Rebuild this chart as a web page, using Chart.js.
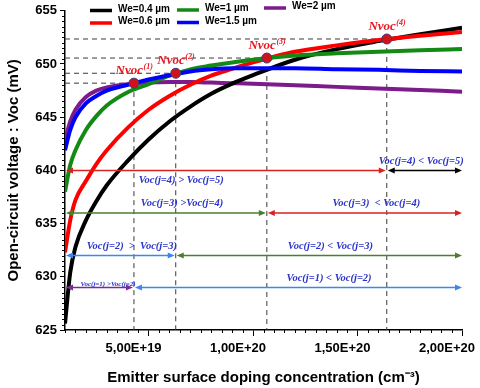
<!DOCTYPE html>
<html>
<head>
<meta charset="utf-8">
<script src="https://cdn.jsdelivr.net/npm/chart.js@4.4.0/dist/chart.umd.min.js"></script>
<style>
  html, body { margin: 0; padding: 0; background: #fff; }
  #wrap { width: 480px; height: 388px; }
</style>
</head>
<body>
<div id="wrap"><canvas id="vocChart" width="480" height="388"></canvas></div>
<script>
// Voc versus emitter surface doping, for several emitter thicknesses

// doping concentration (cm-3)
const doping = [1e19, 1.25e19, 1.5e19, 2e19, 2.5e19, 3e19, 4e19, 5e19, 6e19, 7e19, 8e19, 9e19, 1e20, 1.2e20, 1.4e20, 1.6e20, 1.8e20, 2e20];

// Voc (mV) for each emitter thickness
const vocWe04 = [625.6, 630.4, 632.8, 635.3, 637.1, 638.6, 640.9, 642.9, 644.6, 646.0, 647.2, 648.15, 648.95, 650.4, 651.4, 652.15, 652.8, 653.4];
const vocWe06 = [632.3, 635.3, 637.2, 639.0, 640.6, 641.9, 644.0, 645.7, 647.0, 648.05, 648.9, 649.55, 650.15, 651.15, 651.75, 652.25, 652.65, 653.0];
const vocWe1 = [638.0, 640.5, 641.9, 643.8, 645.1, 646.1, 647.35, 648.1, 648.9, 649.5, 649.85, 650.15, 650.4, 650.8, 651.0, 651.15, 651.3, 651.4];
const vocWe15 = [641.9, 643.8, 645.0, 646.3, 647.0, 647.5, 648.05, 648.55, 648.95, 649.3, 649.5, 649.6, 649.6, 649.6, 649.5, 649.45, 649.35, 649.3];
const vocWe2 = [642.8, 644.6, 645.7, 646.9, 647.5, 647.8, 648.1, 648.25, 648.3, 648.3, 648.25, 648.2, 648.15, 648.0, 647.85, 647.7, 647.55, 647.4];

const seriesLabels = ['We=0.4 µm', 'We=0.6 µm', 'We=1 µm', 'We=1.5 µm', 'We=2 µm'];
const seriesColors = ['#000000', '#ff0000', '#138a13', '#0000ff', '#7d1a8c'];

// crossing points Nvoc(1..4)
const nvocX = [4.3e19, 6.3e19, 1.066e20, 1.64e20];
const nvocY = [648.2, 649.13, 650.56, 652.35];

// comparison arrows (mV level) and their notes
const arrowLevels = [629, 632, 636, 640];
const leftNotes = ['Voc(j=1) >Voc(j=2)', 'Voc(j=2)  >  Voc(j=3)', 'Voc(j=3) >Voc(j=4)', 'Voc(j=4) > Voc(j=5)'];
const rightNotes = ['Voc(j=1) < Voc(j=2)', 'Voc(j=2) < Voc(j=3)', 'Voc(j=3)  < Voc(j=4)', 'Voc(j=4) < Voc(j=5)'];
const arrowColors = ['#7a2d92', '#3d86f2', '#4a7f2c', '#d8231e', '#000000'];

// tick labels
const xTicks = [5e19, 1e20, 1.5e20, 2e20];
const yTickStep = 5;

const toPoints = (ys) => doping.map((x, i) => ({ x: x, y: ys[i] }));
const vocSeries = [vocWe04, vocWe06, vocWe1, vocWe15, vocWe2];

// blue on top of purple, points on top of everything
const curveOrder = [3, 2, 1, 0, 4];
const datasets = [{
  label: 'Nvoc',
  data: nvocX.map((x, i) => ({ x: x, y: nvocY[i] })),
  showLine: false,
  pointRadius: 5,
  pointBackgroundColor: '#d0121a',
  pointBorderColor: '#3b3f78',
  pointBorderWidth: 1
}];
curveOrder.forEach(function (i) {
  datasets.push({
    label: seriesLabels[i],
    data: toPoints(vocSeries[i]),
    borderColor: seriesColors[i],
    backgroundColor: seriesColors[i],
    borderWidth: 4,
    pointRadius: 0,
    cubicInterpolationMode: 'monotone'
  });
});

function head(ctx, x, y, dir) {
  ctx.beginPath();
  ctx.moveTo(x, y);
  ctx.lineTo(x + dir * 7, y - 3);
  ctx.lineTo(x + dir * 7, y + 3);
  ctx.closePath();
  ctx.fill();
}

function arrow(ctx, x1, x2, y, color) {
  ctx.strokeStyle = color;
  ctx.fillStyle = color;
  ctx.lineWidth = 1.5;
  ctx.beginPath();
  ctx.moveTo(x1 + 4, y);
  ctx.lineTo(x2 - 4, y);
  ctx.stroke();
  head(ctx, x1, y, 1);
  head(ctx, x2, y, -1);
}

const serif = '"Liberation Serif", "Times New Roman", serif';

const overlay = {
  id: 'overlay',
  beforeDatasetsDraw(chart) {
    const ctx = chart.ctx, xs = chart.scales.x, ys = chart.scales.y;
    ctx.save();
    // dashed guides to the crossing points
    ctx.strokeStyle = '#3a3a3a';
    ctx.lineWidth = 1;
    ctx.setLineDash([5, 4]);
    nvocX.forEach(function (v, i) {
      const px = xs.getPixelForValue(v), py = ys.getPixelForValue(nvocY[i]);
      ctx.beginPath();
      ctx.moveTo(xs.left, py);
      ctx.lineTo(px, py);
      ctx.moveTo(px, py);
      ctx.lineTo(px, ys.bottom);
      ctx.stroke();
    });
    ctx.restore();
  },
  afterDatasetsDraw(chart) {
    const ctx = chart.ctx, xs = chart.scales.x, ys = chart.scales.y;
    ctx.save();

    // minor ticks
    ctx.strokeStyle = '#000';
    ctx.lineWidth = 1;
    for (let k = 2; k <= 40; k++) {
      if (k % 10 === 0) continue;
      const px = Math.round(xs.getPixelForValue(k * 5e18)) + 0.5;
      ctx.beginPath();
      ctx.moveTo(px, xs.top);
      ctx.lineTo(px, xs.top + 3);
      ctx.stroke();
    }
    for (let k = 1250; k <= 1310; k++) {
      if (k % 10 === 0) continue;
      const py = Math.round(ys.getPixelForValue(k * 0.5)) + 0.5;
      ctx.beginPath();
      ctx.moveTo(ys.right, py);
      ctx.lineTo(ys.right - 3, py);
      ctx.stroke();
    }

    // comparison arrows
    arrowLevels.forEach(function (lv, i) {
      const py = ys.getPixelForValue(lv);
      const pm = xs.getPixelForValue(nvocX[i]);
      arrow(ctx, xs.left + 1, pm - 1, py, arrowColors[i]);
      arrow(ctx, pm + 1, xs.right, py, arrowColors[i + 1]);
    });

    // notes on the arrows (anchored in data units)
    const notes = [
      [leftNotes[0], 3.06e19, 629.35, 7],
      [rightNotes[0], 1.364e20, 629.9, 10.5],
      [leftNotes[1], 4.2e19, 632.9, 10.5],
      [rightNotes[1], 1.37e20, 632.9, 10.5],
      [leftNotes[2], 6.6e19, 636.9, 10.5],
      [rightNotes[2], 1.59e20, 636.9, 10.5],
      [leftNotes[3], 6.56e19, 639.05, 10.5],
      [rightNotes[3], 1.805e20, 640.85, 10.5]
    ];
    ctx.fillStyle = '#2a35c8';
    ctx.textAlign = 'center';
    ctx.textBaseline = 'middle';
    notes.forEach(function (n) {
      ctx.font = 'italic bold ' + n[3] + 'px ' + serif;
      ctx.fillText(n[0], xs.getPixelForValue(n[1]), ys.getPixelForValue(n[2]));
    });

    // Nvoc labels
    ctx.fillStyle = '#ec1520';
    ctx.textBaseline = 'alphabetic';
    ctx.textAlign = 'left';
    nvocX.forEach(function (v, i) {
      const px = xs.getPixelForValue(v), py = ys.getPixelForValue(nvocY[i]);
      ctx.font = 'italic bold 13px ' + serif;
      const w1 = ctx.measureText('Nvoc').width;
      ctx.font = 'italic bold 8px ' + serif;
      const sup = '(' + (i + 1) + ')';
      const w2 = ctx.measureText(sup).width;
      const x0 = px - (w1 + w2) / 2;
      const base = py - 9;
      ctx.font = 'italic bold 13px ' + serif;
      ctx.fillText('Nvoc', x0, base);
      ctx.font = 'italic bold 8px ' + serif;
      ctx.fillText(sup, x0 + w1 + 0.5, base - 5);
    });

    // legend, three columns
    const slots = [[90, 10.5], [90, 23], [177, 10], [177, 22.5], [264, 8]];
    ctx.font = 'bold 10px "Liberation Sans", Arial, sans-serif';
    ctx.fillStyle = '#000';
    ctx.textBaseline = 'middle';
    seriesLabels.forEach(function (lab, i) {
      const s = slots[i];
      ctx.strokeStyle = seriesColors[i];
      ctx.lineWidth = 3.5;
      ctx.beginPath();
      ctx.moveTo(s[0], s[1]);
      ctx.lineTo(s[0] + 22, s[1]);
      ctx.stroke();
      ctx.fillText(lab, s[0] + 28, s[1] - 1.5);
    });
    ctx.restore();
  }
};

const tickFont = { family: '"Liberation Sans", Arial, sans-serif', size: 13, weight: 'bold' };
const titleFont = { family: '"Liberation Sans", Arial, sans-serif', size: 15, weight: 'bold' };

new Chart(document.getElementById('vocChart'), {
  type: 'line',
  data: { datasets: datasets },
  options: {
    responsive: false,
    animation: false,
    layout: { padding: { top: 10, right: 18, left: 0, bottom: 0 } },
    plugins: {
      legend: { display: false },
      tooltip: { enabled: false }
    },
    scales: {
      x: {
        type: 'linear',
        min: 1e19,
        max: 2e20,
        afterBuildTicks: function (scale) {
          scale.ticks = xTicks.map(function (v) { return { value: v }; });
        },
        afterFit: function (scale) {
          scale.height = 58;
          scale.paddingLeft = 0;
          scale.paddingRight = 0;
        },
        border: { color: '#000', width: 1.5 },
        grid: { drawOnChartArea: false, drawTicks: true, tickLength: 6, color: '#000' },
        ticks: {
          autoSkip: false,
          maxRotation: 0,
          labelOffset: -15,
          padding: 5,
          color: '#000',
          font: tickFont,
          callback: function (v) {
            return Number(v).toExponential(2).replace('.', ',').replace('e', 'E');
          }
        },
        title: {
          display: true,
          text: 'Emitter surface doping concentration (cm⁻³)',
          color: '#000',
          font: titleFont,
          padding: { top: 0, bottom: 1 }
        }
      },
      y: {
        min: 625,
        max: 655,
        afterFit: function (scale) {
          scale.width = 65;
        },
        border: { color: '#000', width: 1.5 },
        grid: { drawOnChartArea: false, drawTicks: true, tickLength: 5, color: '#000' },
        ticks: {
          stepSize: yTickStep,
          autoSkip: false,
          padding: 3,
          color: '#000',
          font: tickFont
        },
        title: {
          display: true,
          text: 'Open-circuit voltage : Voc (mV)',
          color: '#000',
          font: titleFont,
          padding: { top: 5, bottom: 0 }
        }
      }
    }
  },
  plugins: [overlay]
});
</script>
</body>
</html>
